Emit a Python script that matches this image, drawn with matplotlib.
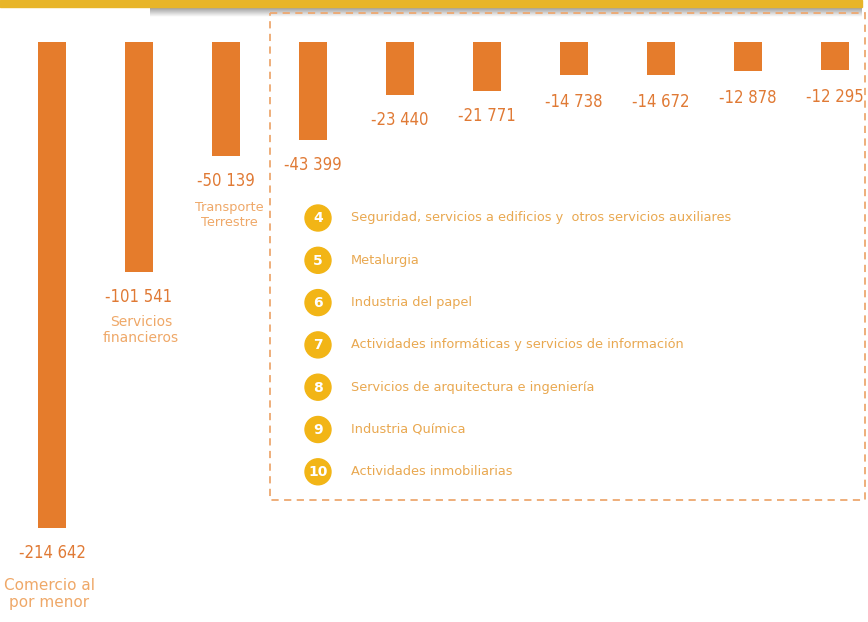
import numpy as np
import matplotlib.pyplot as plt
from matplotlib.patches import Rectangle, Circle

values = [-214642, -101541, -50139, -43399, -23440, -21771, -14738, -14672, -12878, -12295]
value_labels = ["-214 642", "-101 541", "-50 139", "-43 399", "-23 440",
                "-21 771", "-14 738", "-14 672", "-12 878", "-12 295"]
cat_labels = ["Comercio al\npor menor", "Servicios\nfinancieros", "Transporte\nTerrestre"]
legend_nums = ["4", "5", "6", "7", "8", "9", "10"]
legend_text = [
    "Seguridad, servicios a edificios y  otros servicios auxiliares",
    "Metalurgia",
    "Industria del papel",
    "Actividades informáticas y servicios de información",
    "Servicios de arquitectura e ingeniería",
    "Industria Química",
    "Actividades inmobiliarias",
]

BAR = "#E57C2C"
VAL = "#E07A35"
CAT = "#EFA868"
LEG = "#E9A850"
GOLD = "#F2B516"

W, H = 868, 622
fig = plt.figure(figsize=(W / 100, H / 100), dpi=100)

# pixel overlay for decorations
deco = fig.add_axes([0, 0, 1, 1])
deco.set_xlim(0, W)
deco.set_ylim(H, 0)
deco.axis("off")

# top band with shadow
grad = np.linspace(0.55, 1.0, 30).reshape(-1, 1)
shadow = np.dstack([grad, grad, grad, np.ones_like(grad)])
deco.imshow(shadow, extent=(150, 862, 17, 6), aspect="auto", zorder=0,
            interpolation="bilinear")
deco.add_patch(Rectangle((0, 0), 862, 7, color="#E8B528", zorder=1))

# dashed box
deco.add_patch(Rectangle((270, 13), 595, 487, fill=False, ec="#EDA870",
                         lw=1.3, ls=(0, (4, 3)), zorder=1))

# bars
ax = fig.add_axes([0, 0, 1, 1])
ax.patch.set_alpha(0)
k = 486 / 214642
spacing = 87.0
ax.set_xlim(-52 / spacing, (W - 52) / spacing)
ax.set_ylim(-(H - 42) / k, 42 / k)
ax.axis("off")
x = np.arange(len(values))
ax.bar(x, values, width=28 / spacing, color=BAR)

for i, (v, lab) in enumerate(zip(values, value_labels)):
    ax.annotate(lab, (i, v), xytext=(0, -25 if i < 6 else -27),
                textcoords="offset pixels", ha="center", va="center",
                color=VAL, fontsize=12, fontstretch="condensed",
                family="DejaVu Sans")

cat_off = [(-3, -66), (2, -58), (3, -59)]
cat_size = [11, 10, 9.3]
for i, lab in enumerate(cat_labels):
    ax.annotate(lab, (i, values[i]), xytext=cat_off[i],
                textcoords="offset pixels", ha="center", va="center",
                color=CAT, fontsize=cat_size[i], linespacing=1.2)

# numbered list
for j, (n, t) in enumerate(zip(legend_nums, legend_text)):
    cy = 218 + j * 42.3
    deco.add_patch(Circle((318, cy), 13, color=GOLD, zorder=3))
    deco.text(318, cy + 0.5, n, ha="center", va="center", color="white",
              fontsize=10, fontweight="bold", zorder=4)
    deco.text(351, cy, t, ha="left", va="center", color=LEG, fontsize=9.3)

fig.savefig("out.png", dpi=100, facecolor="white")
